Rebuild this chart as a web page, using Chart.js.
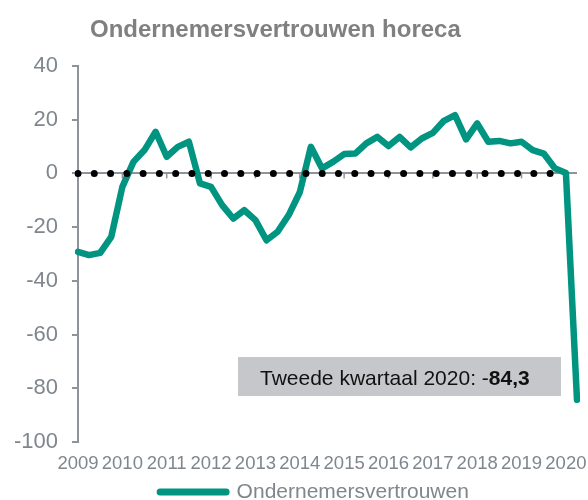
<!DOCTYPE html>
<html>
<head>
<meta charset="utf-8">
<script src="https://cdn.jsdelivr.net/npm/chart.js@4.4.0/dist/chart.umd.min.js"></script>
<style>
html,body{margin:0;padding:0;background:#ffffff;overflow:hidden;}
#wrap{width:588px;height:500px;position:relative;}
canvas{display:block;}
</style>
</head>
<body>
<div id="wrap"><canvas id="c" width="588" height="500"></canvas></div>
<script>
// ---- data ----
const chartTitle = 'Ondernemersvertrouwen horeca';
const seriesName = 'Ondernemersvertrouwen';
const years = ['2009','2010','2011','2012','2013','2014','2015','2016','2017','2018','2019','2020'];
const quarterNames = ['K1','K2','K3','K4'];
const categories = years.flatMap(y => quarterNames.map(q => y + ' ' + q)).slice(0, 46);
const confidence = [
  -29.2, -30.4, -29.6, -23.6,
   -5.0,   4.3,   8.7,  15.5,
    6.2,   9.9,  11.8,  -3.7,
   -5.0, -11.8, -16.8, -13.7,
  -17.4, -24.9, -21.7, -15.5,
   -7.0,   9.9,   1.9,   4.3,
    7.2,   7.4,  11.2,  13.6,
   10.2,  13.6,   9.7,  13.0,
   15.1,  19.6,  21.7,  12.7,
   18.6,  11.8,  12.1,  11.2,
   11.8,   8.7,   7.4,   1.9,
    0.2, -84.3
];
const referenceValue = 0;
const referenceStart = '2009 K1';
const referenceEnd = '2019 K4';
const yTicks = [40, 20, 0, -20, -40, -60, -80, -100];
const annotationLabel = 'Tweede kwartaal 2020: ';

// ---- styles ----
const TEAL = '#009481';
const TEXT_GRAY = '#7f868c';
const TITLE_GRAY = '#808080';
const AXIS_GRAY = '#8e949a';
const BOX_GRAY = '#c6c7cb';
const FONT = "'Liberation Sans', Arial, sans-serif";

const referenceData = [
  {x: referenceStart, y: referenceValue},
  {x: referenceEnd, y: referenceValue}
];

const decorPlugin = {
  id: 'decor',
  afterLayout(chart) {
    // shift the legend row so it centres like the original
    if (chart.legend) { chart.legend.left = 52; }
  },
  beforeDatasetsDraw(chart) {
    const {ctx, scales} = chart;
    const y0 = scales.y.getPixelForValue(referenceValue);
    ctx.save();
    ctx.strokeStyle = AXIS_GRAY;
    ctx.lineWidth = 1.5;
    years.forEach((yr, i) => {
      const x = scales.x.getPixelForValue(i * 4);
      ctx.beginPath();
      ctx.moveTo(x, y0);
      ctx.lineTo(x, y0 + 5);
      ctx.stroke();
    });
    ctx.restore();
  },
  afterDraw(chart) {
    const {ctx} = chart;
    ctx.save();
    // title
    ctx.font = 'bold 24px ' + FONT;
    ctx.fillStyle = TITLE_GRAY;
    ctx.textBaseline = 'alphabetic';
    ctx.textAlign = 'left';
    ctx.fillText(chartTitle, 90, 37);
    // annotation box
    ctx.fillStyle = BOX_GRAY;
    ctx.fillRect(238, 357, 323, 39);
    const last = confidence[confidence.length - 1];
    const sign = last < 0 ? '-' : '';
    const num = Math.abs(last).toFixed(1).replace('.', ',');
    ctx.fillStyle = '#111111';
    ctx.font = '21px ' + FONT;
    const part1 = annotationLabel + sign;
    ctx.fillText(part1, 260, 385);
    const w1 = ctx.measureText(part1).width;
    ctx.font = 'bold 21px ' + FONT;
    ctx.fillText(num, 260 + w1, 385);
    ctx.restore();
  }
};

new Chart(document.getElementById('c'), {
  type: 'line',
  data: {
    labels: categories,
    datasets: [
      {
        label: 'nullijn',
        data: referenceData,
        borderColor: '#000000',
        borderWidth: 7,
        borderDash: [0, 16.28],
        borderCapStyle: 'round',
        pointRadius: 0,
        fill: false,
        order: 0
      },
      {
        label: seriesName,
        data: confidence,
        borderColor: TEAL,
        backgroundColor: TEAL,
        borderWidth: 6.5,
        borderJoinStyle: 'round',
        borderCapStyle: 'round',
        pointRadius: 0,
        tension: 0,
        fill: false,
        order: 1
      }
    ]
  },
  options: {
    responsive: false,
    animation: false,
    events: [],
    layout: { padding: { left: 8, right: 11, top: 66, bottom: -12.5 } },
    scales: {
      x: {
        type: 'category',
        offset: false,
        grid: { display: false },
        border: { display: false },
        ticks: {
          autoSkip: false,
          maxRotation: 0,
          minRotation: 0,
          color: TEXT_GRAY,
          font: { family: FONT, size: 18.5 },
          padding: 3,
          callback: (v, i) => (i % 4 === 0 ? years[i / 4] : '')
        },
        afterFit: s => { s.height = 39.5; }
      },
      y: {
        min: yTicks[yTicks.length - 1],
        max: yTicks[0],
        afterBuildTicks: s => { s.ticks = yTicks.map(v => ({ value: v })); },
        ticks: {
          color: TEXT_GRAY,
          font: { family: FONT, size: 22 },
          padding: 14
        },
        grid: {
          color: c => (c.tick && c.tick.value === referenceValue ? AXIS_GRAY : 'rgba(0,0,0,0)'),
          tickColor: AXIS_GRAY,
          lineWidth: 2,
          tickLength: 6,
          drawTicks: true
        },
        border: { display: true, color: AXIS_GRAY, width: 2 },
        afterFit: s => { s.width = 70; }
      }
    },
    plugins: {
      title: { display: false },
      tooltip: { enabled: false },
      legend: {
        display: true,
        position: 'bottom',
        labels: {
          usePointStyle: true,
          pointStyleWidth: 66,
          padding: 0,
          color: TEXT_GRAY,
          font: { family: FONT, size: 21 },
          generateLabels: () => [{
            text: seriesName,
            fillStyle: TEAL,
            strokeStyle: TEAL,
            lineWidth: 7,
            lineCap: 'round',
            pointStyle: 'line',
            hidden: false,
            datasetIndex: 1,
            fontColor: TEXT_GRAY
          }]
        }
      }
    }
  },
  plugins: [decorPlugin]
});
</script>
</body>
</html>
